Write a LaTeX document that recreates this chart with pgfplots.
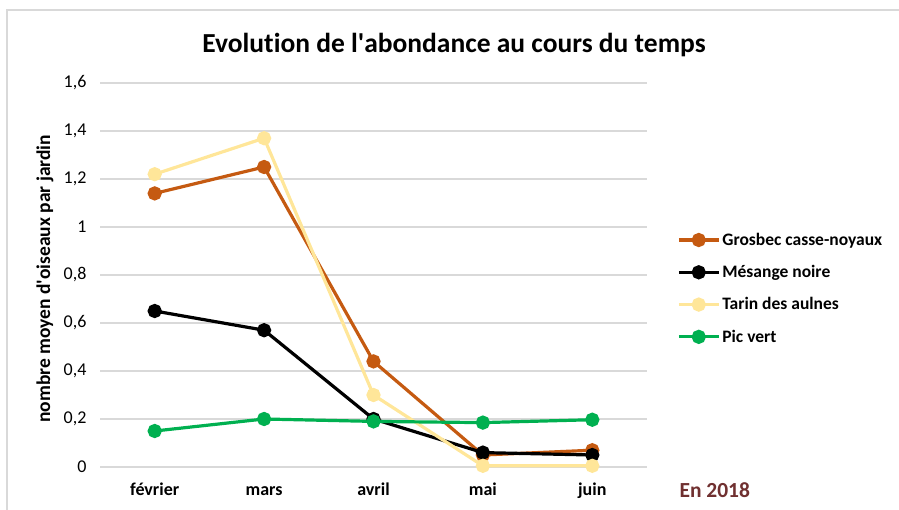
\documentclass[border=0pt]{standalone}
\usepackage{pgfplots}
\pgfplotsset{compat=1.18}
\usepackage{fontspec}
\setmainfont{Carlito}[Ligatures=NoCommon]
\definecolor{grosbec}{RGB}{197,90,17}
\definecolor{tarin}{RGB}{255,230,153}
\definecolor{pic}{RGB}{0,176,80}
\definecolor{gridc}{RGB}{217,217,217}
\definecolor{enan}{RGB}{112,48,48}
\begin{document}
\begin{tikzpicture}[x=1pt,y=1pt]
\useasboundingbox (0,0) rectangle (899,509);
\draw[gridc, line width=1.5pt] (7,-5) -- (7,499) -- (905,499);
\node[font=\fontsize{27.5}{32}\selectfont\bfseries] at (454,464) {Evolution de l\textquotesingle abondance au cours du temps};
\begin{axis}[
  at={(100pt,42pt)}, anchor=south west,
  scale only axis, width=547pt, height=384pt,
  xmin=-0.5, xmax=4.5, ymin=0, ymax=1.6,
  xtick={0,1,2,3,4},
  xticklabels={février,mars,avril,mai,juin},
  ytick={0,0.2,0.4,0.6,0.8,1,1.2,1.4,1.6},
  /pgf/number format/use comma,
  /pgf/number format/assume math mode=true,
  axis line style={draw=none},
  major tick length=0pt,
  ymajorgrids, grid style={gridc, line width=1.2pt},
  xticklabel style={font=\fontsize{18}{20}\selectfont\bfseries, text height=13pt, text depth=4pt, anchor=north, yshift=-12pt},
  yticklabel style={font=\fontsize{18}{20}\selectfont, xshift=-10pt},
  ylabel={nombre moyen d\textquotesingle oiseaux par jardin},
  ylabel style={font=\fontsize{19.5}{22}\selectfont\bfseries, at={(-55pt,0.49)}, anchor=center},
  legend style={draw=none, at={(1.0548,0.62)}, anchor=north west,
    font=\fontsize{17.5}{19}\selectfont\bfseries, row sep=14.5pt,
    legend cell align=left, inner xsep=0pt},
  legend image code/.code={
    \draw[#1, mark=none] (0pt,0pt) -- (40pt,0pt);
    \fill[#1] (20pt,0pt) circle (5.5pt);
  },
  every axis plot/.append style={line width=3.2pt, mark=*, mark size=5.5pt},
  clip=false,
]
\addplot[grosbec, mark options={fill=grosbec}] coordinates {(0,1.14) (1,1.25) (2,0.44) (3,0.05) (4,0.07)};
\addlegendentry{Grosbec casse-noyaux}
\addplot[black, mark options={fill=black}] coordinates {(0,0.65) (1,0.57) (2,0.20) (3,0.06) (4,0.05)};
\addlegendentry{Mésange noire}
\addplot[tarin, mark options={fill=tarin}] coordinates {(0,1.22) (1,1.37) (2,0.30) (3,0.005) (4,0.005)};
\addlegendentry{Tarin des aulnes}
\addplot[pic, mark options={fill=pic}] coordinates {(0,0.15) (1,0.20) (2,0.19) (3,0.185) (4,0.197)};
\addlegendentry{Pic vert}
\end{axis}
\node[font=\fontsize{21.5}{24}\selectfont\bfseries, text=enan, anchor=west] at (676,19) {En 2018};
\end{tikzpicture}
\end{document}
